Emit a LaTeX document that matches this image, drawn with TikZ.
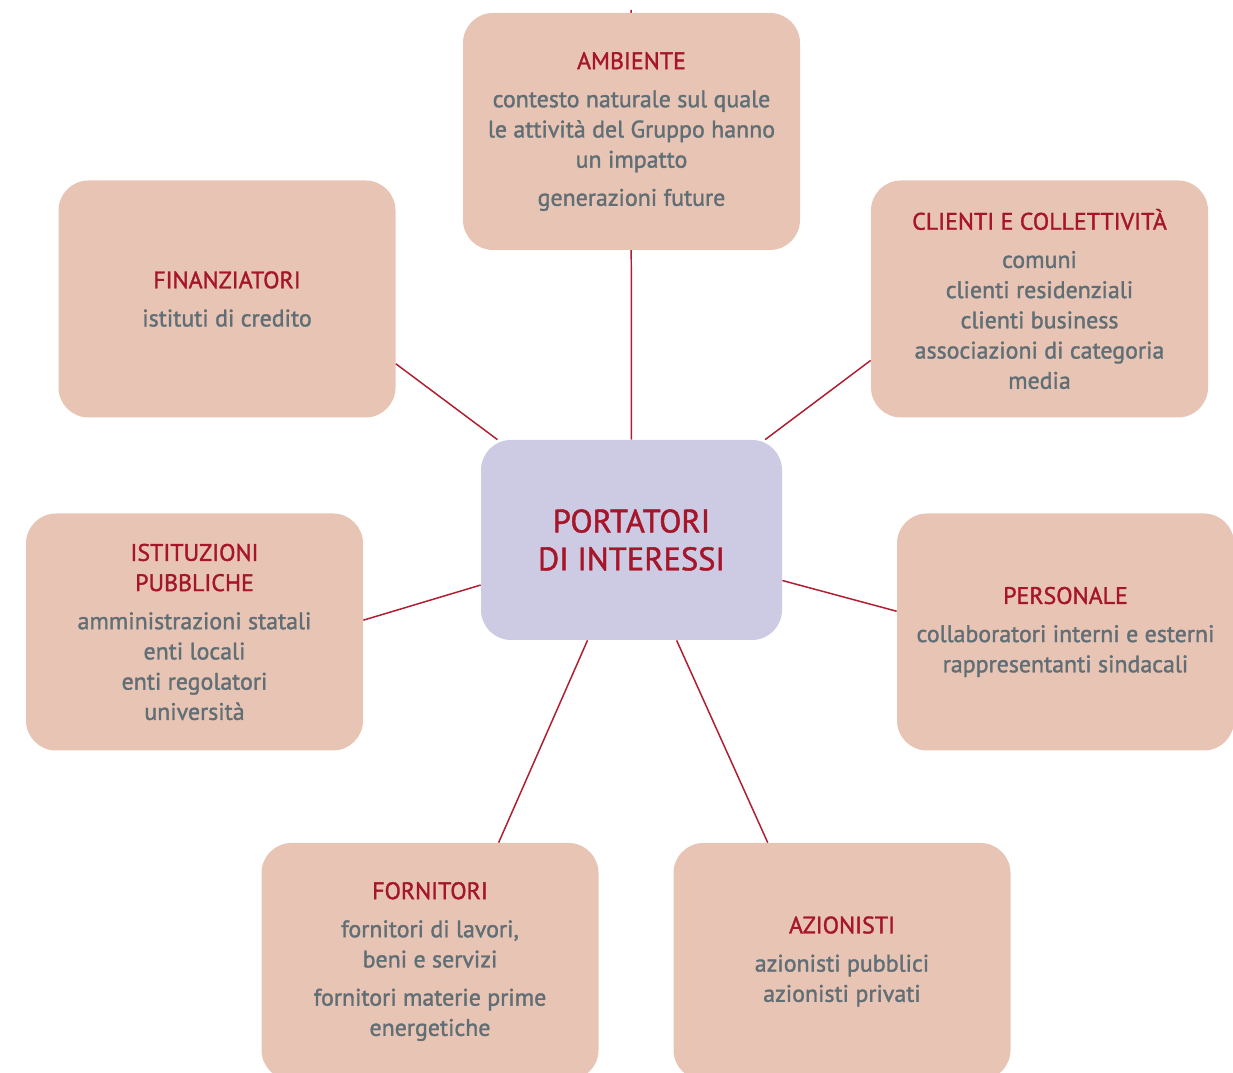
\documentclass[tikz,border=0pt]{standalone}
\usepackage{fontspec}
\setmainfont{PT Sans}[FakeBold=1.4]
\usetikzlibrary{backgrounds}

\definecolor{boxfill}{RGB}{231,196,180}
\definecolor{hubfill}{RGB}{205,202,227}
\definecolor{titlered}{RGB}{166,22,42}
\definecolor{bodygray}{RGB}{96,110,117}
\definecolor{linkred}{RGB}{176,30,50}

\newcommand{\titolo}[1]{\textcolor{titlered}{#1}}

\begin{document}
\begin{tikzpicture}[
    group/.style={rectangle, rounded corners=0.6cm, fill=boxfill,
                  minimum width=6.74cm, minimum height=4.74cm, inner sep=0pt,
                  align=center, text=bodygray,
                  font=\fontsize{13.6}{17.2}\selectfont},
    hub/.style={rectangle, rounded corners=0.6cm, fill=hubfill,
                minimum width=6.02cm, minimum height=4cm, inner sep=0pt,
                align=center, text=titlered,
                font=\fontsize{18.5}{21.5}\selectfont},
    link/.style={draw=linkred, line width=0.85pt},
]
    \useasboundingbox (0,0) rectangle (24.66,21.46);

    \node[hub] (hub) at (12.63,10.66) {PORTATORI\\DI INTERESSI};

    \node[group] (ambiente) at (12.63,18.83)
        {\titolo{AMBIENTE}\\[4.5pt]
         contesto naturale sul quale\\le attività del Gruppo hanno\\un impatto\\[4.5pt]
         generazioni future};
    \node[group] (finanziatori) at (4.54,15.48)
        {\titolo{FINANZIATORI}\\[4.5pt]istituti di credito};
    \node[group] (clienti) at (20.79,15.48)
        {\titolo{CLIENTI E COLLETTIVITÀ}\\[4.5pt]
         comuni\\clienti residenziali\\clienti business\\associazioni di categoria\\media};
    \node[group] (istituzioni) at (3.89,8.82)
        {\titolo{ISTITUZIONI}\\\titolo{PUBBLICHE}\\[4.5pt]
         amministrazioni statali\\enti locali\\enti regolatori\\università};
    \node[group] (personale) at (21.31,8.82)
        {\titolo{PERSONALE}\\[4.5pt]
         collaboratori interni e esterni\\rappresentanti sindacali};
    \node[group] (fornitori) at (8.60,2.23)
        {\titolo{FORNITORI}\\[4.5pt]
         fornitori di lavori,\\beni e servizi\\[4.5pt]
         fornitori materie prime\\energetiche};
    \node[group] (azionisti) at (16.84,2.23)
        {\titolo{AZIONISTI}\\[4.5pt]
         azionisti pubblici\\azionisti privati};

    % spokes from the hub
    \coordinate (ambtip) at (12.62,21.26);
    \begin{scope}[on background layer]
        \draw[link] (hub) -- (ambtip);
    \end{scope}
    \draw[link] (hub) -- (finanziatori.-21.5);
    \draw[link] (hub) -- (clienti.-160.7);
    \draw[link] (hub) -- (istituzioni.4.4);
    \draw[link] (hub) -- (personale.173.6);
    \draw[link] (hub) -- (fornitori.60.2);
    \draw[link] (hub) -- (azionisti.122.8);

\end{tikzpicture}
\end{document}
